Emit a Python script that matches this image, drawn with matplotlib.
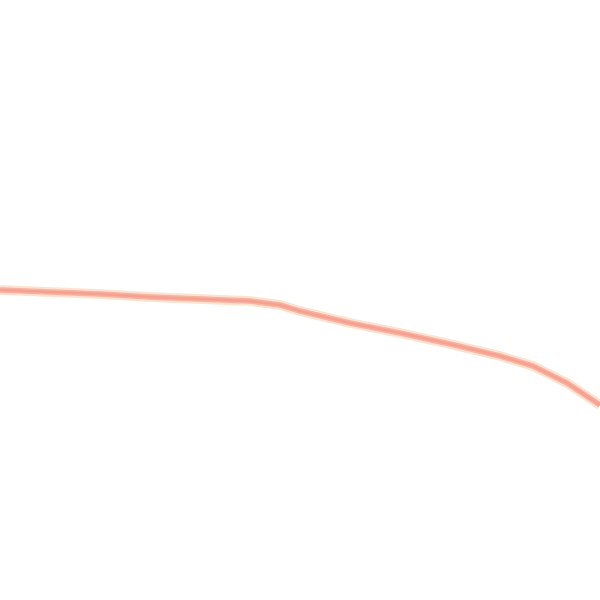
import matplotlib
matplotlib.use("Agg")
import matplotlib.pyplot as plt

# Line points (pixel-like coordinates, y grows downward)
x_values = [0, 50, 100, 150, 200, 250, 280, 300, 350, 400, 450, 500, 533, 567, 600]
y_values = [290, 292, 294, 297, 299, 301, 305, 311, 323, 333, 344, 356, 366, 383, 405]

fig = plt.figure(figsize=(6, 6), dpi=100)
ax = fig.add_axes([0, 0, 1, 1])
ax.plot(x_values, y_values, color="#fee2d0", lw=7.0, solid_capstyle="butt")
ax.plot(x_values, y_values, color="#f8b2a0", lw=4.0, solid_capstyle="butt")
ax.plot(x_values, y_values, color="#f5a092", lw=1.8, solid_capstyle="butt")
ax.set_xlim(0, 600)
ax.set_ylim(600, 0)
ax.axis("off")
fig.savefig("out.png", dpi=100, facecolor="white")
